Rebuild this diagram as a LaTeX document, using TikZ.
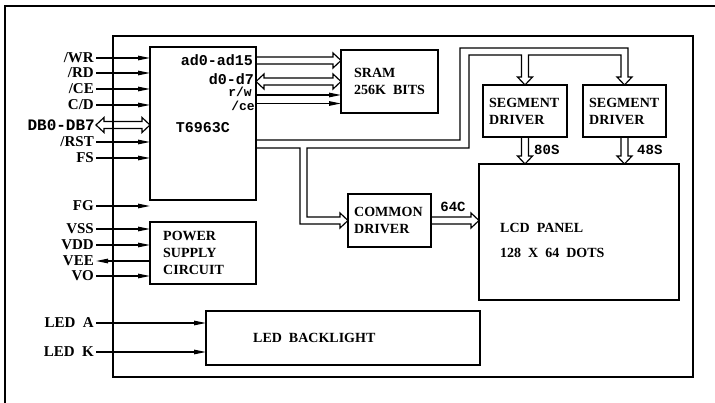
\documentclass[tikz,border=0pt]{standalone}
\usepackage{fontspec}
\setmainfont{Liberation Serif}
\setmonofont{Liberation Mono}
\usetikzlibrary{arrows.meta,calc,positioning}

\tikzstyle{box} = [draw,line width=1.3pt,anchor=north west,inner sep=0pt,outer sep=0pt]
\tikzstyle{lbl} = [inner sep=2pt,align=left,font=\bfseries\fontsize{14}{17}\selectfont]
\tikzstyle{pin} = [lbl,anchor=east,font=\bfseries\fontsize{15}{17}\selectfont]
\tikzstyle{mono} = [inner sep=1pt,font=\ttfamily\bfseries\fontsize{15}{17}\selectfont]
\tikzstyle{wire} = [draw,line width=1.2pt]
\tikzstyle{bus} = [draw,line width=1.2pt,line join=miter]
\tikzstyle{sigin} = [wire,-{Triangle[length=12pt,width=4.5pt]}]
\tikzstyle{sigout} = [wire,{Triangle[length=12pt,width=4.5pt]}-]

% hollow bus arrows: start, tip
\newcommand{\busR}[2]{\draw[bus] ($(#1)+(0,-3.5)$) -- ($(#2)+(-8,-3.5)$) -- ++(0,-4) -- (#2) -- ++(-8,7.5) -- ++(0,-4) -- ($(#1)+(0,3.5)$);}
\newcommand{\busLR}[2]{\draw[bus] ($(#1)+(8,-3.5)$) -- ($(#2)+(-8,-3.5)$) -- ++(0,-4) -- (#2) -- ++(-8,7.5) -- ++(0,-4) -- ($(#1)+(8,3.5)$) -- ++(0,4) -- (#1) -- ++(8,-7.5) -- cycle;}
\newcommand{\busD}[2]{\draw[bus] ($(#1)+(-3.5,0)$) -- ($(#2)+(-3.5,-8)$) -- ++(-4,0) -- (#2) -- ++(7.5,-8) -- ++(-4,0) -- ($(#1)+(3.5,0)$);}

\begin{document}
\begin{tikzpicture}[x=1pt,y=-1pt]
    \useasboundingbox (0,0) rectangle (715,403);
    \draw[wire] (5,403) -- (5,6) -- (715,6);

    %% blocks
    \foreach \name/\x/\y/\w/\h in {
      module/113/36/580/341,
      chip/150/47/106/153,
      sram/341/50/97/63,
      seg1/483/85/84/52,
      seg2/583/85/83/52,
      common/348/194/83/53,
      lcd/479/164/200/136,
      power/150/222/106/62,
      led/206/311/274/54}
    {
      \node[box, minimum width=\w pt, minimum height=\h pt] (\name) at (\x,\y) {};
    }
    \node[mono] (chipname) at ($(chip.center)+(0,4.5)$) {T6963C};
    \node[lbl, right=11pt of sram.west] (sramtext) {SRAM\\256K\ \ BITS};
    \node[lbl, right=4pt of seg1.west] (seg1text) {SEGMENT\\DRIVER};
    \node[lbl, right=4pt of seg2.west] (seg2text) {SEGMENT\\DRIVER};
    \node[lbl, right=4pt of common.west] (commontext) {COMMON\\DRIVER};
    \node[lbl, right=11pt of power.west] (powertext) {POWER\\SUPPLY\\CIRCUIT};
    \node[lbl, right=45pt of led.west] (ledtext) {LED\ \ BACKLIGHT};
    \node[lbl, anchor=west, font=\bfseries\fontsize{14}{25}\selectfont] (lcdtext)
      at ($(lcd.west)+(19,8)$) {LCD\ \ PANEL\\128\ \ X\ \ 64\ \ DOTS};

    %% pins on the left
    \foreach \nm/\txt/\y/\dest/\tip in {
      wr/{/WR}/58/chip/sigin, rd/{/RD}/73/chip/sigin, cen/{/CE}/89/chip/sigin,
      cd/{C/D}/105/chip/sigin, rst/{/RST}/142/chip/sigin, fs/FS/158/chip/sigin,
      fg/FG/206/chip/sigin, vss/VSS/229/power/sigin, vdd/VDD/245/power/sigin,
      vee/VEE/261/power/sigout, vo/VO/276/power/sigin,
      leda/{LED~~A}/323/led/sigin, ledk/{LED~~K}/352/led/sigin}
    {
      \node[pin] (\nm) at (96,\y) {\txt};
      \draw[\tip] (\nm.east) -- (\dest.west |- \nm.east);
    }
    \node[mono, anchor=east, font=\ttfamily\bfseries\fontsize{16}{17}\selectfont] (db) at (96,125) {DB0-DB7};
    \busLR{db.east}{chip.west |- db.east}

    %% chip to sram
    \node[mono, anchor=east] (ad) at (254,60.5) {ad0-ad15};
    \node[mono, anchor=east] (dd) at (255,79) {d0-d7};
    \node[mono, anchor=east, font=\ttfamily\bfseries\fontsize{13}{14}\selectfont] (rw) at (253,92) {r/w};
    \node[mono, anchor=east, font=\ttfamily\bfseries\fontsize{13}{14}\selectfont] (lce) at (256,106) {/ce};
    \busR{chip.east |- ad}{sram.west |- ad}
    \busLR{chip.east |- sram.west}{sram.west}
    \draw[sigin] (chip.east |- 0,95) -- (sram.west |- 0,95);
    \draw[sigin] (chip.east |- 0,103.5) -- (sram.west |- 0,103.5);

    %% data bus to the drivers
    \draw[bus] (chip.east |- 0,140) -| (460,48) -| ($(seg2.north)+(3.5,-8)$) -- ++(4,0)
      -- (seg2.north) -- ++(-7.5,-8) -- ++(4,0) |- (528.5,55)
      -- ($(seg1.north)+(3.5,-8)$) -- ++(4,0) -- (seg1.north) -- ++(-7.5,-8) -- ++(4,0)
      |- (469,55) -- (469,148) -- (307,148) |- ($(common.west)+(-8,-3.5)$) -- ++(0,-4)
      -- (common.west) -- ++(-8,7.5) -- ++(0,-4) -| (300,148) -- (chip.east |- 0,148);

    %% drivers to the panel
    \busR{common.east}{lcd.west |- common.east}
    \busD{seg1.south}{seg1.south |- lcd.north}
    \busD{seg2.south}{seg2.south |- lcd.north}
    \node[mono, font=\ttfamily\bfseries\fontsize{14}{17}\selectfont] (c64) at (453,207) {64C};
    \node[mono, anchor=west, font=\ttfamily\bfseries\fontsize{14}{17}\selectfont] (s80) at (533,150) {80S};
    \node[mono, anchor=west, font=\ttfamily\bfseries\fontsize{14}{17}\selectfont] (s48) at (636,150) {48S};
\end{tikzpicture}
\end{document}
